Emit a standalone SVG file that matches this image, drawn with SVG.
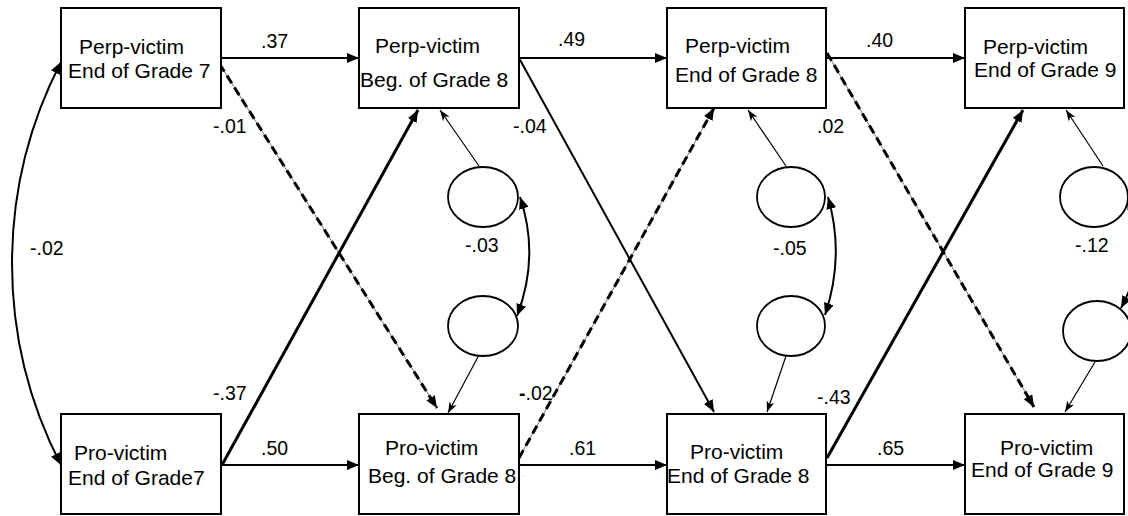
<svg xmlns="http://www.w3.org/2000/svg" width="1128" height="516" viewBox="0 0 1128 516">
  <style>
    .box { fill: #fff; stroke: #000; stroke-width: 2; }
    .lbl { font-family: "Liberation Sans", Arial, sans-serif; font-size: 21px; fill: #000; }
    .num { font-family: "Liberation Sans", Arial, sans-serif; font-size: 19.5px; fill: #000; }
    .res { fill: #fff; stroke: #000; stroke-width: 1.8; }
    .path { fill: none; stroke: #000; stroke-width: 2; }
    .thick { fill: none; stroke: #000; stroke-width: 3; }
    .thin { fill: none; stroke: #000; stroke-width: 1.2; }
    .under { fill: none; stroke: #777; stroke-width: 1; }
    .dash { fill: none; stroke: #000; stroke-width: 3; stroke-dasharray: 9 5; }
  </style>
  <defs>
    <marker id="ah" viewBox="0 0 12 10" refX="12" refY="5" markerWidth="12" markerHeight="10" markerUnits="userSpaceOnUse" orient="auto-start-reverse">
      <path d="M0,0 L12,5 L0,10 z" fill="#000"/>
    </marker>
    <marker id="ahs" viewBox="0 0 11 8" refX="11" refY="4" markerWidth="11" markerHeight="8" markerUnits="userSpaceOnUse" orient="auto-start-reverse">
      <path d="M0,0 L11,4 L0,8 L3,4 z" fill="#000"/>
    </marker>
  </defs>

  <!-- paths and covariances -->
  <g id="connectors">
    <!-- stability paths -->
    <path class="path" d="M221,58 L359,58" marker-end="url(#ah)"/>
    <path class="path" d="M519,58 L667,58" marker-end="url(#ah)"/>
    <path class="path" d="M826,58 L965,58" marker-end="url(#ah)"/>
    <path class="path" d="M221,465 L359,465" marker-end="url(#ah)"/>
    <path class="path" d="M519,465 L667,465" marker-end="url(#ah)"/>
    <path class="path" d="M826,465 L965,465" marker-end="url(#ah)"/>

    <!-- cross-lagged paths -->
    <path class="under" d="M212,52 L437,408"/>
    <path class="dash" d="M212,52 L437,408" marker-end="url(#ah)"/>
    <path class="thick" d="M222,465 L418,110" marker-end="url(#ah)"/>
    <path class="path" d="M519,58 L714,412" stroke-width="2.5" marker-end="url(#ah)"/>
    <path class="under" d="M519,458 L714,108"/>
    <path class="dash" d="M519,458 L714,108" marker-end="url(#ah)"/>
    <path class="under" d="M827,53 L1034,407"/>
    <path class="dash" d="M827,53 L1034,407" marker-end="url(#ah)"/>
    <path class="thick" d="M827,458 L1023,110" marker-end="url(#ah)"/>

    <!-- residual paths -->
    <path class="thin" d="M479,166 L440,110" marker-end="url(#ahs)"/>
    <path class="thin" d="M479,355 L448,413" marker-end="url(#ahs)"/>
    <path class="thin" d="M786,166 L748,110" marker-end="url(#ahs)"/>
    <path class="thin" d="M786,356 L767,412" marker-end="url(#ahs)"/>
    <path class="thin" d="M1103,166 L1066,110" marker-end="url(#ahs)"/>
    <path class="thin" d="M1095,362 L1065,412" marker-end="url(#ahs)"/>

    <!-- covariances -->
    <path class="path" d="M61,62 A439,439 0 0 0 61,465" marker-start="url(#ah)" marker-end="url(#ah)"/>
    <path class="path" d="M520,197 Q540,256 517,316" marker-start="url(#ah)" marker-end="url(#ah)"/>
    <path class="path" d="M828,197 Q845,256 825,315" marker-start="url(#ah)" marker-end="url(#ah)"/>
    <path class="path" d="M1127,198 Q1152,250 1121,308" marker-start="url(#ah)" marker-end="url(#ah)"/>
  </g>

  <!-- residual terms -->
  <g id="res-b8-perp"><ellipse class="res" cx="483" cy="197" rx="35" ry="30"/></g>
  <g id="res-b8-pro"><ellipse class="res" cx="483" cy="326" rx="35" ry="30"/></g>
  <g id="res-e8-perp"><ellipse class="res" cx="791" cy="197" rx="34" ry="30"/></g>
  <g id="res-e8-pro"><ellipse class="res" cx="791" cy="326" rx="34" ry="30"/></g>
  <g id="res-e9-perp"><ellipse class="res" cx="1094" cy="197" rx="34" ry="30"/></g>
  <g id="res-e9-pro"><ellipse class="res" cx="1097" cy="331" rx="34" ry="30"/></g>

  <!-- observed variables -->
  <g id="perp-e7">
    <rect class="box" x="61" y="8" width="160" height="100"/>
    <text class="lbl" x="79" y="54">Perp-victim</text>
    <text class="lbl" x="68" y="78">End of Grade 7</text>
  </g>
  <g id="perp-b8">
    <rect class="box" x="359" y="8" width="160" height="100"/>
    <text class="lbl" x="375" y="53">Perp-victim</text>
    <text class="lbl" x="360" y="87">Beg. of Grade 8</text>
  </g>
  <g id="perp-e8">
    <rect class="box" x="667" y="8" width="159" height="100"/>
    <text class="lbl" x="685" y="53">Perp-victim</text>
    <text class="lbl" x="675" y="82">End of Grade 8</text>
  </g>
  <g id="perp-e9">
    <rect class="box" x="965" y="8" width="159" height="100"/>
    <text class="lbl" x="983" y="54">Perp-victim</text>
    <text class="lbl" x="974" y="77">End of Grade 9</text>
  </g>
  <g id="pro-e7">
    <rect class="box" x="61" y="414" width="160" height="100"/>
    <text class="lbl" x="74" y="460">Pro-victim</text>
    <text class="lbl" x="68" y="485">End of Grade7</text>
  </g>
  <g id="pro-b8">
    <rect class="box" x="359" y="414" width="160" height="100"/>
    <text class="lbl" x="385" y="455">Pro-victim</text>
    <text class="lbl" x="368" y="483">Beg. of Grade 8</text>
  </g>
  <g id="pro-e8">
    <rect class="box" x="667" y="414" width="159" height="100"/>
    <text class="lbl" x="690" y="459">Pro-victim</text>
    <text class="lbl" x="667" y="483">End of Grade 8</text>
  </g>
  <g id="pro-e9">
    <rect class="box" x="965" y="414" width="159" height="100"/>
    <text class="lbl" x="1000" y="455">Pro-victim</text>
    <text class="lbl" x="971" y="477">End of Grade 9</text>
  </g>

  <!-- coefficients -->
  <g id="coefficients">
    <text class="num" x="261" y="48">.37</text>
    <text class="num" x="558" y="46">.49</text>
    <text class="num" x="866" y="47">.40</text>
    <text class="num" x="213" y="133">-.01</text>
    <text class="num" x="513" y="133">-.04</text>
    <text class="num" x="817" y="133">.02</text>
    <text class="num" x="30" y="255">-.02</text>
    <text class="num" x="465" y="252">-.03</text>
    <text class="num" x="773" y="255">-.05</text>
    <text class="num" x="1075" y="252">-.12</text>
    <text class="num" x="213" y="400">-.37</text>
    <text class="num" x="519" y="400"><tspan font-weight="bold">-</tspan>.02</text>
    <text class="num" x="817" y="404">-.43</text>
    <text class="num" x="261" y="455">.50</text>
    <text class="num" x="569" y="455">.61</text>
    <text class="num" x="877" y="455">.65</text>
  </g>
</svg>
